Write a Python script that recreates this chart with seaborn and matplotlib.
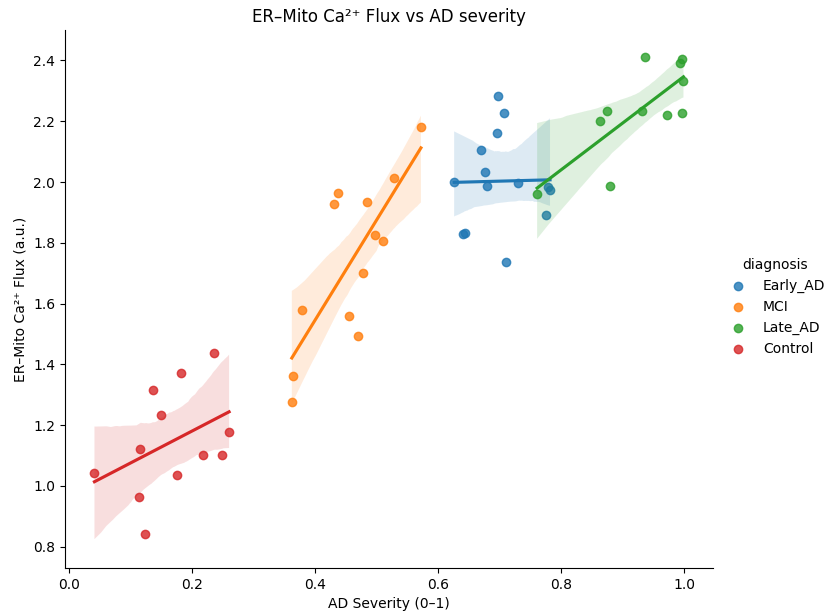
import pandas as pd
import seaborn as sns
import matplotlib
matplotlib.use("Agg")
import matplotlib.pyplot as plt

# Values
groups = ["Early_AD", "MCI", "Late_AD", "Control"]

early_sev = [0.698, 0.707, 0.696, 0.670, 0.677, 0.626, 0.680, 0.730, 0.779, 0.782, 0.776, 0.640, 0.643, 0.711]
early_flux = [2.284, 2.227, 2.162, 2.105, 2.034, 2.000, 1.988, 1.996, 1.983, 1.974, 1.892, 1.828, 1.832, 1.736]

mci_sev = [0.572, 0.528, 0.437, 0.430, 0.484, 0.498, 0.510, 0.477, 0.379, 0.455, 0.470, 0.364, 0.362]
mci_flux = [2.180, 2.014, 1.964, 1.928, 1.933, 1.827, 1.806, 1.700, 1.578, 1.560, 1.493, 1.361, 1.277]

late_sev = [0.936, 0.996, 0.993, 0.999, 0.932, 0.874, 0.864, 0.973, 0.997, 0.880, 0.761]
late_flux = [2.410, 2.405, 2.392, 2.333, 2.235, 2.233, 2.202, 2.220, 2.227, 1.986, 1.959]

ctrl_sev = [0.041, 0.136, 0.181, 0.235, 0.149, 0.115, 0.260, 0.217, 0.248, 0.176, 0.114, 0.124]
ctrl_flux = [1.041, 1.314, 1.372, 1.439, 1.233, 1.122, 1.176, 1.102, 1.102, 1.037, 0.964, 0.843]

sev = [early_sev, mci_sev, late_sev, ctrl_sev]
flux = [early_flux, mci_flux, late_flux, ctrl_flux]

frames = []
for name, s, f in zip(groups, sev, flux):
    frames.append(pd.DataFrame({"severity": s, "flux": f, "diagnosis": name}))
df = pd.concat(frames, ignore_index=True)

# Plot
g = sns.lmplot(data=df, x="severity", y="flux", hue="diagnosis",
               hue_order=groups, height=5, aspect=1.2, seed=0)
g.set_axis_labels("AD Severity (0–1)", "ER–Mito Ca²⁺ Flux (a.u.)")
g.ax.set_title("ER–Mito Ca²⁺ Flux vs AD severity")
g.ax.set_ylim(0.73, 2.5)

g.figure.set_size_inches(8.28, 6.14)
g.figure.subplots_adjust(left=0.0785, right=0.861, top=0.951, bottom=0.075)
g.legend.set_bbox_to_anchor((1.012, 0.5))
g.legend.set_loc("center right")

g.figure.savefig("out.png", dpi=100)
